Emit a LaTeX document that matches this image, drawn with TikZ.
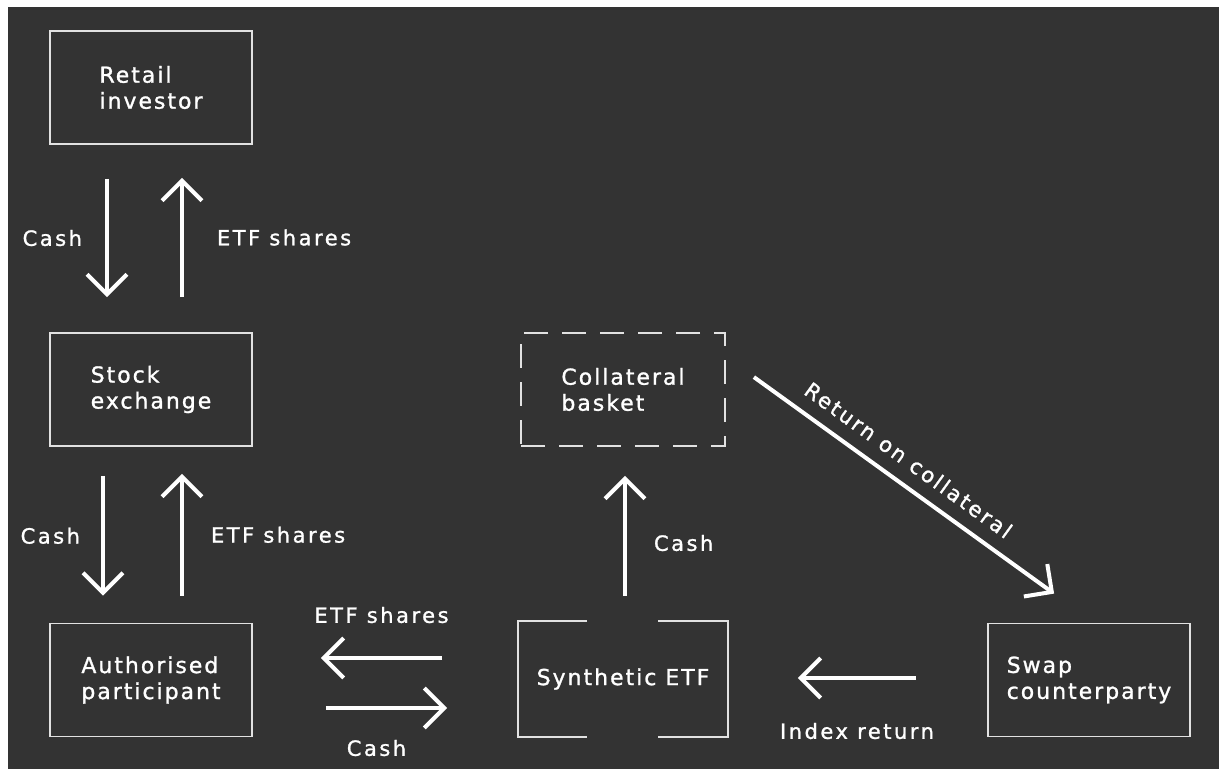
\documentclass[tikz,border=0pt]{standalone}
\usepackage{fontspec}
\usetikzlibrary{arrows.meta}
\newfontfamily\boxfont[LetterSpace=9,FakeBold=1.2]{DejaVu Sans}
\newfontfamily\lblfont[LetterSpace=12,FakeBold=1.2]{DejaVu Sans}
\definecolor{board}{HTML}{333333}
\definecolor{chalkline}{HTML}{E2E2E2}
\begin{document}
\begin{tikzpicture}[x=1pt,y=-1pt,
 box/.style={draw=chalkline, line width=1.8pt, minimum width=202pt, minimum height=113pt, inner sep=0pt, text=white, font=\boxfont\fontsize{22pt}{26pt}\selectfont, align=left},
 arr/.style={draw=white, line width=4pt, -{Straight Barb[length=20pt,width=40pt]}},
 lbl/.style={text=white, font=\lblfont\fontsize{21pt}{25pt}\selectfont, inner sep=0pt},
 bracket/.style={draw=chalkline, line width=1.8pt}]
\fill[white] (0,0) rectangle (1224,769);
\fill[board] (8,7) rectangle (1219,769);
\useasboundingbox (0,0) rectangle (1224,769);

\node[box] (retail) at (151,87.5) {Retail\\investor};
\node[box] (stock) at (151,389.5) {Stock\\exchange};
\node[box] (ap) at (151,680) {Authorised\\participant};
\node[box, dashed, dash pattern=on 24pt off 14pt, minimum width=204pt] (collat) at (623,389.5) {Collateral\\basket};
\node[box, draw=none, minimum width=208pt, minimum height=114pt] (synth) at (623,679) {Synthetic ETF};
\node[box] (swap) at (1089,680) {Swap\\counterparty};

\draw[bracket] ([xshift=-36pt]synth.north) -- (synth.north west) -- (synth.south west) -- ([xshift=-36pt]synth.south);
\draw[bracket] ([xshift=35pt]synth.north) -- (synth.north east) -- (synth.south east) -- ([xshift=35pt]synth.south);

\draw[arr] ([xshift=-44pt,yshift=-34pt]retail.south) -- ([xshift=-44pt,yshift=35pt]stock.north)
  node[lbl, midway, anchor=east, xshift=-23pt]{Cash};
\draw[arr] ([xshift=31pt,yshift=35pt]stock.north) -- ([xshift=31pt,yshift=-33pt]retail.south)
  node[lbl, midway, anchor=west, xshift=33pt]{ETF shares};

\draw[arr] ([xshift=-48pt,yshift=-29pt]stock.south) -- ([xshift=-48pt,yshift=27pt]ap.north)
  node[lbl, midway, anchor=east, xshift=-21pt]{Cash};
\draw[arr] ([xshift=31pt,yshift=27pt]ap.north) -- ([xshift=31pt,yshift=-27pt]stock.south)
  node[lbl, midway, anchor=west, xshift=27pt]{ETF shares};

\draw[arr] ([xshift=-76pt,yshift=21pt]synth.west) -- ([xshift=68pt,yshift=22pt]ap.east)
  node[lbl, midway, yshift=43pt]{ETF shares};
\draw[arr] ([xshift=73pt,yshift=-28pt]ap.east) -- ([xshift=-71pt,yshift=-29pt]synth.west)
  node[lbl, midway, xshift=-10pt, yshift=-40pt]{Cash};
\draw[arr] ([xshift=-71pt,yshift=2pt]swap.west) -- ([xshift=70pt,yshift=1pt]synth.east)
  node[lbl, midway, yshift=-53pt]{Index return};
\draw[arr] ([xshift=2pt,yshift=25pt]synth.north) -- ([xshift=2pt,yshift=-29pt]collat.south)
  node[lbl, midway, anchor=west, xshift=27pt, yshift=-7pt]{Cash};

\draw[arr] ([shift={(28pt,-45pt)}]collat.north east) -- ([shift={(67pt,29pt)}]swap.north west)
  node[lbl, pos=0.47, sloped, above=13pt]{Return on collateral};
\end{tikzpicture}
\end{document}
